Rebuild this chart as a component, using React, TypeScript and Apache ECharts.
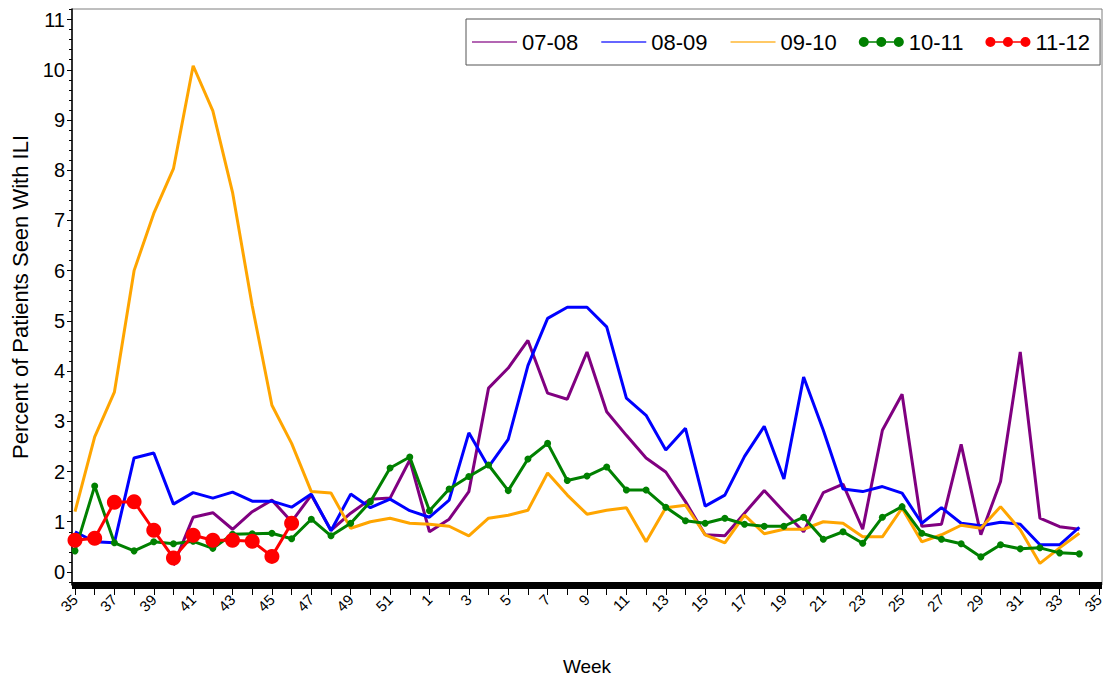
import React, { useEffect, useRef } from "react";
import * as echarts from "echarts";

const WEEK_LABELS = [
  "35", "36", "37", "38", "39", "40", "41", "42", "43", "44", "45", "46", "47", "48", "49", "50", "51", "52",
  "1", "2", "3", "4", "5", "6", "7", "8", "9", "10", "11", "12", "13", "14", "15", "16", "17", "18", "19", "20",
  "21", "22", "23", "24", "25", "26", "27", "28", "29", "30", "31", "32", "33", "34", "35",
];

const Y_TICKS = [0, 1, 2, 3, 4, 5, 6, 7, 8, 9, 10, 11];

const S_0708 = [
  null, null, null, null, null,
  0.13, 1.09, 1.18, 0.85, 1.2, 1.43, 1.0, 1.53, 0.83, 1.17, 1.45, 1.47, 2.23,
  0.8, 1.05, 1.6, 3.66, 4.06, 4.61, 3.56, 3.44, 4.38, 3.19,
  2.72, 2.27, 1.99, 1.4, 0.74, 0.72, 1.17, 1.62, 1.2, 0.8,
  1.58, 1.75, 0.85, 2.82, 3.54, 0.91, 0.95, 2.54, 0.74, 1.8,
  4.38, 1.07, 0.9, 0.85, null,
];

const S_0809 = [
  0.8, 0.6, 0.58, 2.27, 2.37, 1.35, 1.58, 1.47, 1.59, 1.41, 1.41, 1.29, 1.55, 0.82, 1.55, 1.28, 1.45, 1.22,
  1.09, 1.43, 2.77, 2.09, 2.64, 4.11, 5.05, 5.27, 5.27, 4.88,
  3.46, 3.12, 2.43, 2.86, 1.31, 1.53, 2.3, 2.9, 1.85, 3.88,
  2.82, 1.65, 1.6, 1.7, 1.57, 0.97, 1.28, 0.97, 0.92, 0.99,
  0.95, 0.54, 0.54, 0.89, null,
];

const S_0910 = [
  1.2, 2.69, 3.58, 6.0, 7.14, 8.03, 10.08, 9.18, 7.56, 5.3, 3.32, 2.56, 1.6, 1.57, 0.87, 1.0, 1.07, 0.97,
  0.95, 0.91, 0.72, 1.07, 1.13, 1.23, 1.97, 1.53, 1.15, 1.23,
  1.28, 0.6, 1.28, 1.33, 0.74, 0.58, 1.13, 0.76, 0.85, 0.85,
  1.0, 0.97, 0.7, 0.7, 1.27, 0.6, 0.74, 0.93, 0.87, 1.3,
  0.84, 0.17, 0.48, 0.77, null,
];

const S_1011 = [
  0.42, 1.71, 0.58, 0.42, 0.6, 0.56, 0.61, 0.47, 0.75, 0.76, 0.77, 0.66, 1.05, 0.72, 0.97, 1.4, 2.07, 2.29,
  1.22, 1.65, 1.9, 2.13, 1.62, 2.25, 2.56, 1.82, 1.91, 2.09,
  1.63, 1.63, 1.29, 1.02, 0.97, 1.07, 0.95, 0.91, 0.91, 1.09,
  0.65, 0.8, 0.57, 1.09, 1.3, 0.77, 0.65, 0.56, 0.3, 0.54,
  0.46, 0.48, 0.38, 0.36, null,
];

const S_1112 = [0.63, 0.67, 1.39, 1.4, 0.83, 0.28, 0.73, 0.63, 0.63, 0.61, 0.31, 0.97];

const SERIES_NAMES = ["07-08", "08-09", "09-10", "10-11", "11-12"];
const SERIES_COLORS = ["#800080", "#0000ff", "#ffa500", "#008000", "#ff0000"];

const FONT = "'Liberation Sans', Arial, Helvetica, sans-serif";

const DOTS_ICON =
  "path://M0,4.3 L45,4.3 L45,5.7 L0,5.7 Z " +
  "M0,5 a5,5 0 1,1 10,0 a5,5 0 1,1 -10,0 Z " +
  "M17.5,5 a5,5 0 1,1 10,0 a5,5 0 1,1 -10,0 Z " +
  "M35,5 a5,5 0 1,1 10,0 a5,5 0 1,1 -10,0 Z";

function toPairs(arr: (number | null)[]) {
  const out: [number, number][] = [];
  arr.forEach((v, i) => {
    if (v !== null && v !== undefined) out.push([i, v]);
  });
  return out;
}

export default function App() {
  const ref = useRef<HTMLDivElement>(null);

  useEffect(() => {
    if (!ref.current) return;
    const chart = echarts.init(ref.current, null, { renderer: "svg" });

    const xTickVals = WEEK_LABELS.map((_, i) => i);
    const xLabelVals = xTickVals.filter((i) => i % 2 === 0);
    const minorVals: number[] = [];
    for (let k = -1; k <= 56; k++) {
      const v = k / 5;
      if (k % 5 !== 0 && v > -0.26 && v < 11.21) minorVals.push(v);
    }

    const allData = [S_0708, S_0809, S_0910, S_1011, S_1112];

    const series: any[] = allData.map((arr, idx) => {
      const base: any = {
        name: SERIES_NAMES[idx],
        type: "line",
        data: toPairs(arr),
        color: SERIES_COLORS[idx],
        lineStyle: { width: 3, color: SERIES_COLORS[idx] },
        itemStyle: { color: SERIES_COLORS[idx] },
        showSymbol: false,
        symbol: "none",
      };
      if (idx === 3) {
        base.symbol = "circle";
        base.showSymbol = true;
        base.symbolSize = 7;
      }
      if (idx === 4) {
        base.symbol = "circle";
        base.showSymbol = true;
        base.symbolSize = 15;
      }
      return base;
    });

    const option: any = {
      animation: false,
      backgroundColor: "#ffffff",
      textStyle: { fontFamily: FONT },
      grid: {
        left: 72,
        right: 5,
        top: 9,
        bottom: 98,
        show: true,
        borderColor: "#7f7f7f",
        borderWidth: 1,
        backgroundColor: "transparent",
      },
      legend: {
        left: 466,
        top: 19,
        orient: "horizontal",
        itemWidth: 45,
        itemHeight: 10,
        itemGap: 22,
        padding: [12, 10, 12, 5],
        borderColor: "#555555",
        borderWidth: 1,
        backgroundColor: "#ffffff",
        textStyle: { fontSize: 22, color: "#000000", fontFamily: FONT },
        lineStyle: { width: 2, opacity: 0.6 },
        data: [
          { name: SERIES_NAMES[0], itemStyle: { opacity: 0 } },
          { name: SERIES_NAMES[1], itemStyle: { opacity: 0 } },
          { name: SERIES_NAMES[2], itemStyle: { opacity: 0 } },
          { name: SERIES_NAMES[3], icon: DOTS_ICON },
          { name: SERIES_NAMES[4], icon: DOTS_ICON },
        ],
      },
      xAxis: {
        type: "value",
        min: -0.152,
        max: 52.152,
        name: "Week",
        nameLocation: "middle",
        nameGap: 72,
        nameTextStyle: { fontSize: 19, color: "#000000", fontFamily: FONT },
        axisLine: { show: true, onZero: false, lineStyle: { color: "#000000", width: 7, cap: "butt" } },
        axisTick: {
          show: true,
          length: 10,
          customValues: xTickVals,
          lineStyle: { color: "#000000", width: 1 },
        },
        axisLabel: {
          show: true,
          customValues: xLabelVals,
          rotate: 45,
          margin: 12,
          fontSize: 15,
          color: "#000000",
          fontFamily: FONT,
          formatter: (v: number) => WEEK_LABELS[Math.round(v)],
        },
        splitLine: { show: false },
      },
      yAxis: [
        {
          type: "value",
          min: -0.26,
          max: 11.21,
          position: "left",
          name: "Percent of Patients Seen With ILI",
          nameLocation: "middle",
          nameGap: 41,
          nameTextStyle: { fontSize: 22, color: "#000000", fontFamily: FONT },
          axisLine: { show: true, onZero: false, lineStyle: { color: "#000000", width: 1.5 } },
          axisTick: {
            show: true,
            length: 5,
            customValues: Y_TICKS,
            lineStyle: { color: "#000000", width: 1 },
          },
          axisLabel: {
            show: true,
            customValues: Y_TICKS,
            margin: 7,
            fontSize: 20,
            color: "#000000",
            fontFamily: FONT,
          },
          splitLine: { show: false },
        },
        {
          type: "value",
          min: -0.26,
          max: 11.21,
          position: "left",
          axisLine: { show: false, onZero: false },
          axisTick: {
            show: true,
            length: 3,
            customValues: minorVals,
            lineStyle: { color: "#000000", width: 1 },
          },
          axisLabel: { show: false },
          splitLine: { show: false },
        },
      ],
      series,
    };

    chart.setOption(option);
    return () => {
      chart.dispose();
    };
  }, []);

  return (
    <div
      ref={ref}
      style={{ position: "fixed", left: 0, top: 0, width: 1107, height: 683, background: "#fff" }}
    />
  );
}
